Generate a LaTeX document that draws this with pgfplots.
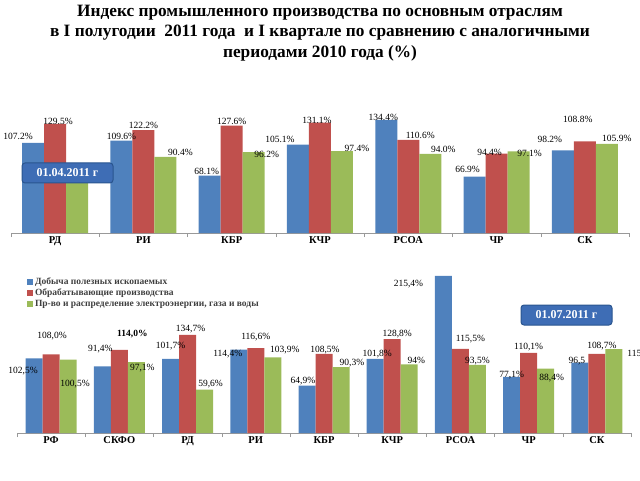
\documentclass[border=0pt]{standalone}
\usepackage{pgfplots}
\usepackage{pgfplotstable}
\pgfplotsset{compat=1.18}
\usepackage{fontspec}
\setmainfont{Liberation Serif}
\definecolor{cblue}{HTML}{4F81BD}
\definecolor{cred}{HTML}{C0504D}
\definecolor{cgreen}{HTML}{9BBB59}
\definecolor{boxblue}{HTML}{3E6DB5}
\definecolor{boxedge}{HTML}{2A558F}
% top chart (01.04.2011): x value label dx dy
\pgfplotstableread{
x y lab dx dy
0 107.2 107.2\% -15 2
1 109.6 109.6\% 0 0
2 68.1 68.1\% -3 0
3 105.1 105.1\% -18 1
4 134.4 134.4\% -3 -2
5 66.9 66.9\% -7 3
6 98.2 98.2\% -13 7
}\topA
\pgfplotstableread{
x y lab dx dy
0 129.5 129.5\% 3 -2
1 122.2 122.2\% 0 0
2 127.6 127.6\% 0 0
3 131.1 131.1\% -3 -2
4 110.6 110.6\% 12 0
5 94.4 94.4\% -7 -3
6 108.8 108.8\% -7 18
}\topB
\pgfplotstableread{
x y lab dx dy
0 77.0 \mbox{} 0 0
1 90.4 90.4\% 15 0
2 96.2 96.2\% 13 -7
3 97.4 97.4\% 15 -2
4 94.0 94.0\% 13 0
5 97.1 97.1\% 11 -7
6 105.9 105.9\% 10 1
}\topC
% bottom chart (01.07.2011)
\pgfplotstableread{
x y lab dx dy
0 102.5 102,5\% -11 -18
1 91.4 91,4\% -2 12
2 101.7 101,7\% 0 8
3 114.4 114,4\% -11 -10
4 64.9 64,9\% -4 0
5 101.8 101,8\% 2 0
6 215.4 215,4\% -35 -13
7 77.1 77,1\% 0 -3
8 96.5 96,5 -3 -3
}\botA
\pgfplotstableread{
x y lab dx dy
0 108.0 108,0\% 1 13
1 114.0 \textbf{114,0\%} 13 11
2 134.7 134,7\% 3 1
3 116.6 116,6\% 0 6
4 108.5 108,5\% 1 -1
5 128.8 128,8\% 5 0
6 115.5 115,5\% 10 5
7 110.1 110,1\% 0 1
8 108.7 108,7\% 5 3
}\botB
\pgfplotstableread{
x y lab dx dy
0 100.5 100,5\% 7 -29
1 97.1 97,1\% 6 -11
2 59.6 59,6\% 6 0
3 103.9 103,9\% 12 2
4 90.3 90,3\% 11 -1
5 94.0 94\% 7 0
6 93.5 93,5\% 0 -1
7 88.4 88,4\% 6 -15
8 115.0 115,0\% 28 -10
}\botC
\begin{document}
\begin{tikzpicture}[x=1pt,y=1pt]
\path[use as bounding box] (0pt,0pt) rectangle (640pt,480pt);
\pgfplotsset{
  every axis/.append style={
    scale only axis, clip=false,
    axis x line*=bottom, axis y line=none,
    ymin=0, xtick={0,...,8},
    major tick length=0pt, minor tick length=4pt,
    tick align=outside,
    minor tick style={gray!80},
    axis line style={gray!80},
    ticklabel style={font=\fontsize{10.5}{11}\selectfont\bfseries},
    ybar=0pt,
    point meta=explicit symbolic,
    visualization depends on={\thisrow{dx} \as \dx},
    visualization depends on={\thisrow{dy} \as \dy},
    nodes near coords,
    nodes near coords style={font=\fontsize{9.5}{10}\selectfont, inner sep=1pt,
      xshift=\dx pt, yshift=\dy pt},
  },
}
% ---------------- top chart: 01.04.2011
\begin{axis}[
  at={(11pt,247pt)}, anchor=south west,
  width=618pt, height=133pt,
  xmin=-0.5, xmax=6.5, ymax=158,
  xticklabels={РД,РИ,КБР,КЧР,РСОА,ЧР,СК},
  minor xtick={-0.5,0.5,...,6.5},
  bar width=22pt,
]
\addplot[fill=cblue,draw=none] table[x=x,y=y,meta=lab]{\topA};
\addplot[fill=cred,draw=none] table[x=x,y=y,meta=lab]{\topB};
\addplot[fill=cgreen,draw=none] table[x=x,y=y,meta=lab]{\topC};
\end{axis}
% ---------------- bottom chart: 01.07.2011
\begin{axis}[
  at={(17pt,47pt)}, anchor=south west,
  width=614pt, height=164pt,
  xmin=-0.5, xmax=8.5, ymax=225,
  xticklabels={РФ,СКФО,РД,РИ,КБР,КЧР,РСОА,ЧР,СК},
  minor xtick={-0.5,0.5,...,8.5},
  bar width=17pt,
  legend style={at={(0.016,0.96)}, anchor=north west, draw=none, fill=none,
    font=\fontsize{9.5}{11}\selectfont\bfseries\color{black!75},
    cells={anchor=west}, row sep=-1pt, inner sep=0pt},
  legend image code/.code={\fill[#1] (0pt,-3pt) rectangle (6pt,3pt);},
]
\addplot[fill=cblue,draw=none] table[x=x,y=y,meta=lab]{\botA};
\addplot[fill=cred,draw=none] table[x=x,y=y,meta=lab]{\botB};
\addplot[fill=cgreen,draw=none] table[x=x,y=y,meta=lab]{\botC};
\legend{Добыча полезных ископаемых,Обрабатывающие производства,{Пр-во и распределение электроэнергии, газа и воды}}
\end{axis}
% ---------------- title and date boxes
\node[align=center, font=\fontsize{17.3}{20.5}\selectfont\bfseries] at (320pt,447pt)
 {Индекс промышленного производства по основным отраслям\\
  в I полугодии\ \ 2011 года\ \ и I квартале по сравнению с аналогичными\\
  периодами 2010 года (\%)};
\node[rounded corners=3pt, fill=boxblue, draw=boxedge, line width=1pt, text=white,
  minimum width=91pt, minimum height=20pt, font=\fontsize{12}{13}\selectfont\bfseries]
  at (67.5pt,307pt) {01.04.2011 г};
\node[rounded corners=3pt, fill=boxblue, draw=boxedge, line width=1pt, text=white,
  minimum width=91pt, minimum height=20pt, font=\fontsize{12}{13}\selectfont\bfseries]
  at (566.5pt,165pt) {01.07.2011 г};
\end{tikzpicture}
\end{document}
